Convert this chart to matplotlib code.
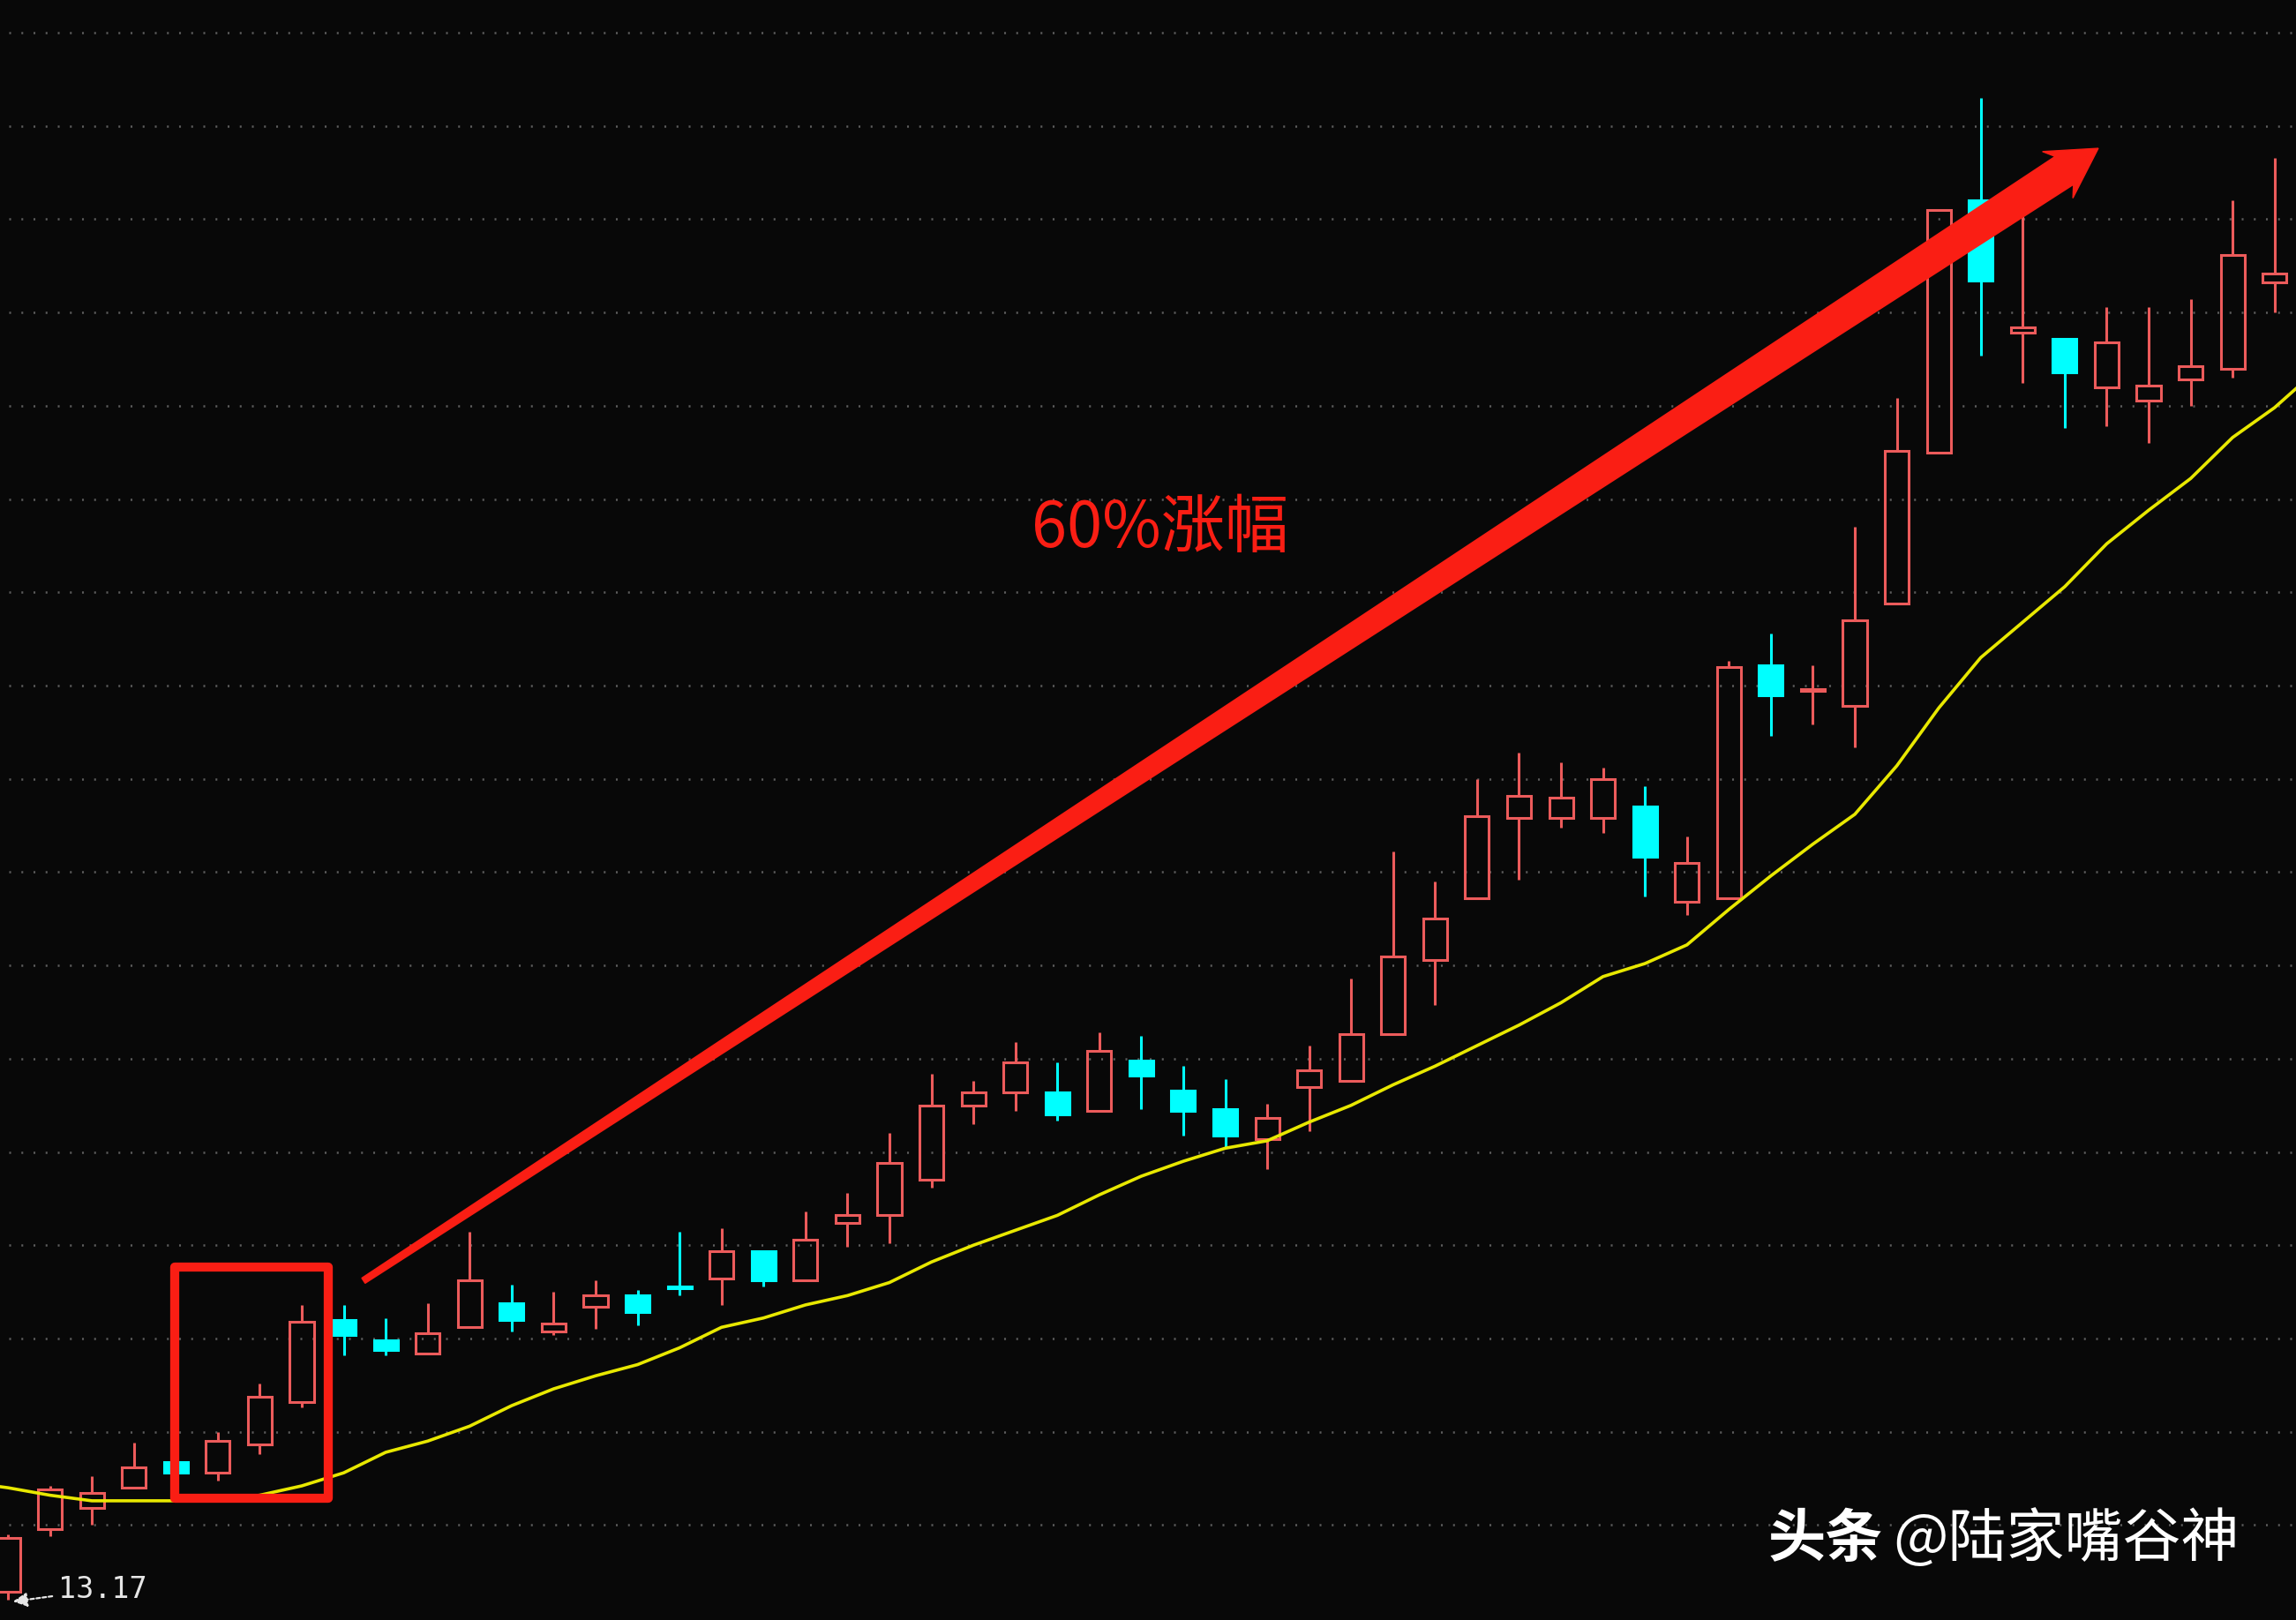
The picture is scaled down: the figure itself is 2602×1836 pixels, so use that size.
import matplotlib
matplotlib.use("Agg")
import matplotlib.pyplot as plt
from matplotlib.patches import Rectangle, Polygon
from matplotlib.transforms import IdentityTransform
import matplotlib.patheffects as pe
import numpy as np

plt.rcParams['lines.scale_dashes'] = False
plt.rcParams['font.family'] = ['Noto Sans CJK SC', 'DejaVu Sans']

# ---------------- data (daily K-line, price) ----------------
opens = [13.21, 13.55, 13.66, 13.77, 13.91, 13.85, 14.00, 14.23, 14.67, 14.56,
         14.49, 14.63, 14.76, 14.61, 14.74, 14.80, 14.85, 14.89, 15.04, 14.88,
         15.19, 15.23, 15.42, 15.82, 15.89, 15.89, 15.79, 16.06, 15.90, 15.80,
         15.64, 15.92, 15.95, 16.20, 16.60, 16.93, 17.36, 17.36, 17.36, 17.42,
         16.91, 16.93, 18.18, 18.04, 17.96, 18.51, 19.32, 20.67, 19.96, 19.93,
         19.67, 19.60, 19.71, 19.77, 20.23]
highs = [13.52, 13.78, 13.83, 14.01, 13.91, 14.07, 14.33, 14.75, 14.75, 14.68,
         14.76, 15.14, 14.86, 14.82, 14.88, 14.83, 15.14, 15.16, 15.04, 15.25,
         15.35, 15.67, 15.99, 15.95, 16.16, 16.05, 16.21, 16.19, 16.03, 15.96,
         15.83, 16.14, 16.50, 17.18, 17.02, 17.57, 17.71, 17.66, 17.63, 17.53,
         17.26, 18.20, 18.35, 18.18, 18.92, 19.61, 20.62, 21.22, 20.62, 19.93,
         20.10, 20.10, 20.14, 20.67, 20.90]
lows = [13.17, 13.51, 13.57, 13.77, 13.85, 13.81, 13.95, 14.20, 14.48, 14.48,
        14.49, 14.63, 14.61, 14.59, 14.62, 14.64, 14.80, 14.75, 14.85, 14.88,
        15.06, 15.08, 15.38, 15.72, 15.79, 15.74, 15.79, 15.80, 15.66, 15.59,
        15.48, 15.68, 15.95, 16.20, 16.36, 16.93, 17.03, 17.31, 17.28, 16.94,
        16.84, 16.93, 17.80, 17.86, 17.74, 18.51, 19.32, 19.84, 19.69, 19.45,
        19.46, 19.37, 19.57, 19.72, 20.07]
closes = [13.50, 13.76, 13.74, 13.88, 13.85, 14.02, 14.26, 14.66, 14.59, 14.51,
          14.60, 14.88, 14.67, 14.65, 14.80, 14.71, 14.84, 15.04, 14.88, 15.10,
          15.23, 15.51, 15.82, 15.89, 16.05, 15.77, 16.11, 15.98, 15.79, 15.66,
          15.75, 16.01, 16.20, 16.62, 16.82, 17.37, 17.48, 17.47, 17.57, 17.15,
          17.12, 18.17, 18.02, 18.05, 18.42, 19.33, 20.62, 20.24, 19.99, 19.75,
          19.91, 19.68, 19.78, 20.38, 20.28]
# moving average, one value per bar from the bar before the first to the bar after the last
ma_values = [13.80, 13.77, 13.73, 13.70, 13.70, 13.70, 13.70, 13.73, 13.78, 13.85,
             13.96, 14.02, 14.10, 14.21, 14.30, 14.37, 14.43, 14.52, 14.63, 14.68,
             14.75, 14.80, 14.87, 14.98, 15.07, 15.15, 15.23, 15.34, 15.44, 15.52,
             15.59, 15.63, 15.73, 15.82, 15.93, 16.03, 16.14, 16.25, 16.37, 16.51,
             16.58, 16.68, 16.87, 17.05, 17.22, 17.38, 17.64, 17.95, 18.22, 18.41,
             18.60, 18.83, 19.01, 19.18, 19.40, 19.56, 19.76]
grid_levels = [13.57, 14.07, 14.57, 15.07, 15.57, 16.07, 16.57, 17.07, 17.57,
               18.07, 18.57, 19.07, 19.57, 20.07, 20.57, 21.07, 21.57]
annotation_text = "60%涨幅"
watermark_bold = "头条"
watermark_rest = "@陆家嘴谷神"

# ---------------- style ----------------
BG = '#080808'
RED = '#ec5b5b'
CYAN = '#00ffff'
YELLOW = '#e8e800'
MARK = '#fa1e14'

W, H, DPI = 2602, 1836, 100
fig = plt.figure(figsize=(W / DPI, H / DPI), dpi=DPI, facecolor=BG)
ax = fig.add_axes([0, 0, 1, 1])
ax.set_facecolor(BG)
ax.set_xlim(-0.189, 54.51)
ax.set_ylim(13.061, 21.745)
ax.axis('off')

# dotted grid
ax.hlines(grid_levels, -1, 56, colors='#5c5c5c', linewidth=1.8,
          linestyles=[(2.0, (1.5, 8.4))], zorder=1)

# candles
bw = 0.57
lw = 2.2
for i, (o, h, l, c) in enumerate(zip(opens, highs, lows, closes)):
    if c >= o:
        ax.vlines(i, c, h, color=RED, lw=lw, zorder=3)
        ax.vlines(i, l, o, color=RED, lw=lw, zorder=3)
        ax.add_patch(Rectangle((i - bw / 2, o), bw, c - o, facecolor='none',
                               edgecolor=RED, lw=lw, zorder=4))
    else:
        ax.vlines(i, l, h, color=CYAN, lw=lw, zorder=3)
        ax.add_patch(Rectangle((i - bw / 2, c), bw, o - c, facecolor=CYAN,
                               edgecolor=CYAN, lw=lw, zorder=4))

# moving average
ax.plot(np.arange(-1, len(ma_values) - 1), ma_values, color=YELLOW, lw=2.6, zorder=5)

# lowest price marker
low_idx = int(np.argmin(lows))
ax.annotate(f"{min(lows):.2f}", xy=(low_idx + 0.12, min(lows) - 0.01),
            xytext=(low_idx + 1.2, min(lows) + 0.055), ha='left', va='center',
            fontsize=24, color='#e6e6e6', family='DejaVu Sans Mono',
            arrowprops=dict(arrowstyle='-|>', color='#e6e6e6', lw=1.6,
                            linestyle=(0, (3, 2)), shrinkA=3, shrinkB=0,
                            mutation_scale=24), zorder=6)

# red box around breakout bars
ax.add_patch(Rectangle((3.97, 13.714), 3.66, 1.239, fill=False, edgecolor=MARK,
                       lw=7.4, joinstyle='round', zorder=7))

# tapered red arrow
p0 = ax.transData.transform((8.47, 14.88))
p1 = ax.transData.transform((49.8, 20.95))
d = p1 - p0
u = d / np.hypot(*d)
n = np.array([-u[1], u[0]])
w0, w1 = 3.5, 19.0
base_back, barb_back, barb_hw = 46.0, 55.0, 31.5
base = p1 - u * base_back
pts = [p0 + n * w0, base + n * w1, p1 - u * barb_back + n * barb_hw, p1,
       p1 - u * barb_back - n * barb_hw, base - n * w1, p0 - n * w0]
ax.add_patch(Polygon(pts, closed=True, facecolor=MARK, edgecolor=MARK, lw=1,
                     transform=IdentityTransform(), zorder=8))

# annotation text
fig.text(1315 / W, 1 - 600 / H, annotation_text, color=MARK, fontsize=52,
         ha='center', va='center', family=['Noto Sans CJK SC', 'DejaVu Sans'])

# watermark
fig.text(2004 / W, 1 - 1745 / H, watermark_bold, color='white', fontsize=47,
         fontweight='bold', ha='left', va='center',
         family=['Noto Sans CJK SC', 'DejaVu Sans'])
fig.text(2145 / W, 1 - 1745 / H, watermark_rest, color='white', fontsize=47.5,
         ha='left', va='center', family=['Noto Sans CJK SC', 'DejaVu Sans'])

fig.savefig('out.png', dpi=DPI, facecolor=BG)
